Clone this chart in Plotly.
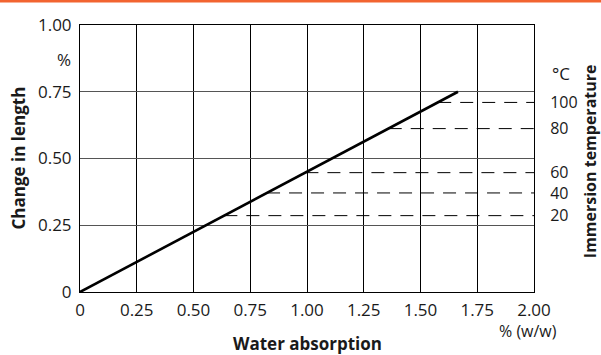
import plotly.graph_objects as go

# data
absorption_line = [0.0, 1.665]          # % (w/w)
length_line = [0.0, 0.75]               # %
temp_labels = ["20", "40", "60", "80", "100"]
temp_length = [0.286, 0.371, 0.447, 0.612, 0.71]
temp_absorption = [0.636, 0.824, 0.993, 1.36, 1.578]
x_ticks = [0, 0.25, 0.5, 0.75, 1.0, 1.25, 1.5, 1.75, 2.0]
x_ticktext = ["0", "0.25", "0.50", "0.75", "1.00", "1.25", "1.50", "1.75", "2.00"]
y_ticks = [0, 0.25, 0.5, 0.75, 1.0]
y_ticktext = ["0", "0.25", "0.50", "0.75", "1.00"]

FONT = "Open Sans"
TXT = "#1a1a1a"
fig = go.Figure()

for a, l in zip(temp_absorption, temp_length):
    fig.add_trace(go.Scatter(x=[a, 2.0], y=[l, l], mode="lines",
                             line=dict(color="black", width=1, dash="13px,9px"),
                             showlegend=False, hoverinfo="skip"))

fig.add_trace(go.Scatter(x=absorption_line, y=length_line, mode="lines",
                         line=dict(color="black", width=2.6),
                         showlegend=False))

# invisible trace for right axis
fig.add_trace(go.Scatter(x=[0], y=[0], yaxis="y2", mode="markers",
                         marker=dict(opacity=0), showlegend=False, hoverinfo="skip"))

fig.update_layout(
    width=601, height=355,
    margin=dict(l=80, r=67, t=25, b=63),
    paper_bgcolor="white", plot_bgcolor="white",
    font=dict(family=FONT, size=17, color=TXT),
    xaxis=dict(range=[0, 2], tickvals=x_ticks, ticktext=x_ticktext,
               showgrid=True, gridcolor="black", gridwidth=1,
               showline=True, linecolor="black", linewidth=1, mirror=True,
               ticks="outside", ticklen=3, tickcolor="rgba(0,0,0,0)",
               zeroline=False, fixedrange=True),
    yaxis=dict(range=[0, 1], tickvals=y_ticks, ticktext=y_ticktext,
               showgrid=True, gridcolor="#555", gridwidth=1.2,
               showline=True, linecolor="black", linewidth=1, mirror=True,
               ticks="outside", ticklen=4, tickcolor="rgba(0,0,0,0)",
               zeroline=False, fixedrange=True),
    yaxis2=dict(range=[0, 1], overlaying="y", side="right",
                tickvals=temp_length, ticktext=temp_labels,
                tickfont=dict(size=16),
                showgrid=False, zeroline=False,
                ticks="outside", ticklen=12, tickcolor="rgba(0,0,0,0)",
                fixedrange=True),
    showlegend=False,
)

ann = [
    dict(text="<b>Change in length</b>", x=0, xref="paper", xanchor="center",
         xshift=-62, y=0.5, yref="paper", yanchor="middle", textangle=-90,
         showarrow=False, font=dict(family=FONT, size=17, color=TXT)),
    dict(text="<b>Immersion temperature</b>", x=1, xref="paper", xanchor="center",
         xshift=56, y=0.49, yref="paper", yanchor="middle", textangle=-90,
         showarrow=False, font=dict(family=FONT, size=16, color=TXT)),
    dict(text="<b>Water absorption</b>", x=1.0, xref="x", y=0, yref="paper",
         yshift=-51, showarrow=False, yanchor="middle",
         font=dict(family=FONT, size=17, color=TXT)),
    dict(text="% (w/w)", x=2.0, xref="x", xshift=25, xanchor="right",
         y=0, yref="paper", yshift=-39, yanchor="middle", showarrow=False,
         font=dict(family=FONT, size=16, color=TXT)),
    dict(text="%", x=0, xref="x", xshift=-7, xanchor="right",
         y=0.869, yref="y", yanchor="middle", showarrow=False,
         font=dict(family=FONT, size=17, color=TXT)),
    dict(text="°C", x=2.0, xref="x", xshift=16, xanchor="left",
         y=0.82, yref="y", yanchor="middle", showarrow=False,
         font=dict(family=FONT, size=17, color=TXT)),
]
fig.update_layout(annotations=ann)

# orange rule at the top of the page
fig.add_shape(type="line", xref="paper", yref="paper",
              x0=-80 / 454, x1=(601 - 80) / 454, y0=1 + 24 / 267, y1=1 + 24 / 267,
              line=dict(color="#f26430", width=3))

fig.write_html("out.html", config={"displayModeBar": False},
               post_script="document.body.style.margin='0';")
